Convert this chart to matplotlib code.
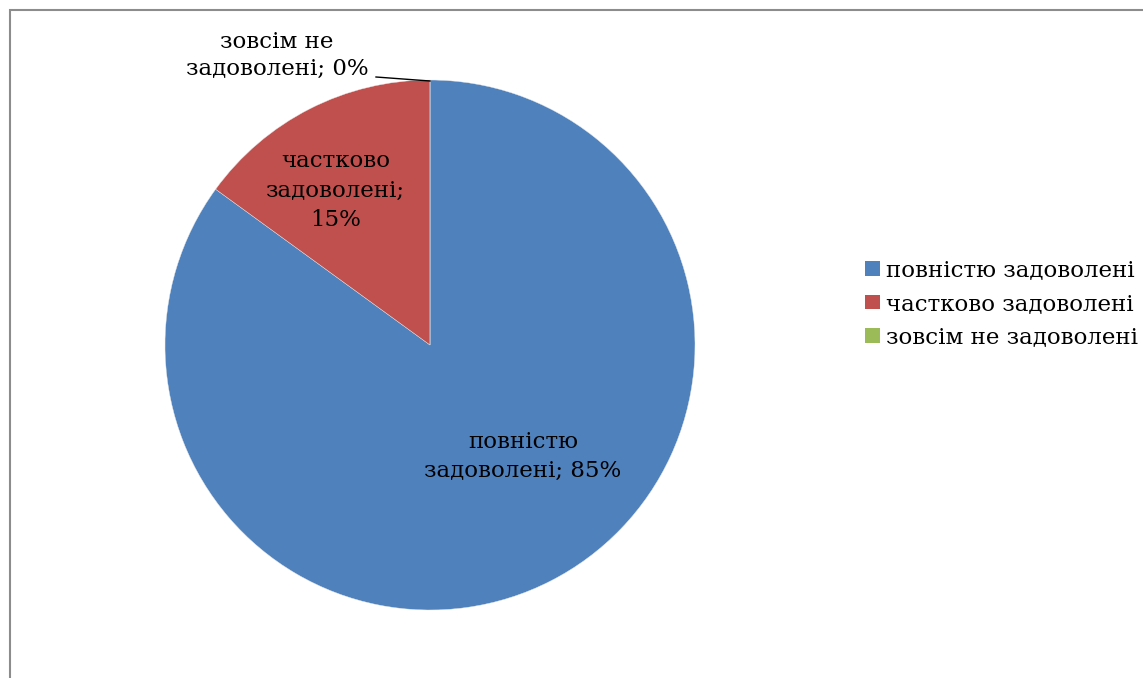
import matplotlib
matplotlib.use("Agg")
import matplotlib.pyplot as plt
from matplotlib.patches import Rectangle
from matplotlib.lines import Line2D

categories = ["повністю задоволені", "частково задоволені", "зовсім не задоволені"]
values = [85, 15, 0]
colors = ["#4F81BD", "#C0504D", "#9BBB59"]

plt.rcParams['font.family'] = ['DejaVu Serif']
fs = 16.5

W, H = 1143, 678
fig = plt.figure(figsize=(W / 100, H / 100), dpi=100)

# chart frame
fig.add_artist(Rectangle((10 / W, -0.1), 1.2, (H - 10) / H + 0.1, transform=fig.transFigure,
                         fill=False, edgecolor="#8c8c8c", linewidth=1.5))

cx, cy, r = 430, 345, 265
ax = fig.add_axes([(cx - r) / W, (H - cy - r) / H, 2 * r / W, 2 * r / H])
wedges, _ = ax.pie(values, colors=colors, startangle=90, counterclock=False,
                   radius=1, wedgeprops=dict(linewidth=0.3, edgecolor="#e8e8e8"))
ax.set_xlim(-1, 1)
ax.set_ylim(-1, 1)
ax.set_aspect("equal")
ax.axis("off")

labels = [f"повністю\nзадоволені; {values[0]}%",
          f"частково\nзадоволені;\n{values[1]}%",
          f"зовсім не\nзадоволені; {values[2]}%"]
pos = [(0.351, -0.421), (-0.355, 0.583), (-0.577, 1.094)]
spacing = [1.45, 1.45, 1.3]
for lab, (x, y), ls in zip(labels, pos, spacing):
    ax.text(x, y, lab, ha="center", va="center", fontsize=fs, linespacing=ls, clip_on=False)

# leader line for 0% slice
ax.add_line(Line2D([(376 - cx) / r, (430 - cx) / r], [(cy - 77) / r, (cy - 81) / r],
                   color="black", linewidth=1.0, clip_on=False))

handles = [Rectangle((0, 0), 1, 1, facecolor=c, edgecolor="none") for c in colors]
fig.legend(handles, categories, loc="center left", bbox_to_anchor=(847 / W, (H - 304) / H),
           frameon=False, fontsize=fs, handlelength=0.62, handleheight=0.62,
           handletextpad=0.3, labelspacing=0.5, borderpad=0.3)

fig.savefig("out.png", dpi=100)
